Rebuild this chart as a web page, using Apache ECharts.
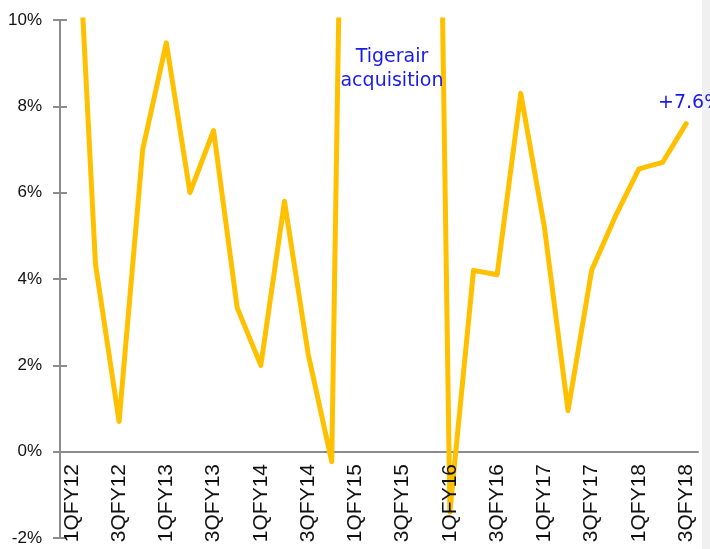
<!DOCTYPE html>
<html>
<head>
<meta charset="utf-8">
<script src="https://cdn.jsdelivr.net/npm/echarts@6/dist/echarts.min.js"></script>
<style>
html,body{margin:0;padding:0;background:#fff;}
#c{width:710px;height:549px;}
</style>
</head>
<body>
<div id="c"></div>
<script>
var categories = ['1QFY12','2QFY12','3QFY12','4QFY12','1QFY13','2QFY13','3QFY13','4QFY13',
  '1QFY14','2QFY14','3QFY14','4QFY14','1QFY15','2QFY15','3QFY15','4QFY15',
  '1QFY16','2QFY16','3QFY16','4QFY16','1QFY17','2QFY17','3QFY17','4QFY17',
  '1QFY18','2QFY18','3QFY18'];
var growth = [15.1, 4.35, 0.7, 7.0, 9.47, 6.0, 7.44, 3.33,
  2.0, 5.8, 2.27, -0.23, 34.8, 38, 40, 35.7,
  -1.4, 4.2, 4.1, 8.3, 5.2, 0.95, 4.2, 5.45,
  6.55, 6.7, 7.6];
var yTicks = [-2, 0, 2, 4, 6, 8, 10];
var annotationText = 'Tigerair\nacquisition';
var endLabel = '+7.6%';

var chart = echarts.init(document.getElementById('c'), null, {renderer:'canvas'});
var option = {
  animation: false,
  backgroundColor: '#ffffff',
  grid: {left: 60, right: 12, top: 20, bottom: 11, containLabel: false, outerBoundsMode: 'none'},
  xAxis: [{
    type: 'category',
    data: categories,
    boundaryGap: true,
    axisLine: {onZero: true, lineStyle: {color: '#8c8c8c', width: 2}},
    axisTick: {show: false},
    axisLabel: {show: false},
    splitLine: {show: false},
    z: 0
  }, {
    type: 'category',
    data: categories,
    position: 'bottom',
    boundaryGap: true,
    axisLine: {show: false, onZero: false},
    axisTick: {show: false},
    axisLabel: {
      interval: 1,
      rotate: 90,
      margin: -74,
      color: '#111',
      fontFamily: 'Liberation Sans, sans-serif',
      fontSize: 21
    },
    splitLine: {show: false},
    z: 10
  }],
  yAxis: [{
    type: 'value',
    min: yTicks[0],
    max: yTicks[yTicks.length - 1],
    interval: 2,
    axisLine: {show: true, lineStyle: {color: '#8c8c8c', width: 2}},
    axisTick: {show: true, length: 7, lineStyle: {color: '#8c8c8c', width: 2}},
    axisLabel: {
      margin: 18,
      color: '#111',
      fontFamily: 'Liberation Sans, sans-serif',
      fontSize: 17,
      formatter: function(v){ return v + '%'; }
    },
    splitLine: {show: false}
  }, {
    type: 'value',
    position: 'left',
    min: yTicks[0],
    max: yTicks[yTicks.length - 1],
    interval: 2,
    axisLine: {show: false},
    axisTick: {show: true, inside: true, length: 7, lineStyle: {color: '#8c8c8c', width: 2}},
    axisLabel: {show: false},
    splitLine: {show: false}
  }],
  series: [{
    type: 'line',
    data: growth,
    xAxisIndex: 0,
    yAxisIndex: 0,
    showSymbol: false,
    symbol: 'none',
    clip: true,
    lineStyle: {color: '#FFC000', width: 5, join: 'round', cap: 'round'},
    z: 3
  }],
  graphic: [
    {type: 'rect', shape: {x: 702, y: 0, width: 8, height: 549}, style: {fill: '#f0f0f0'}, z: 0},
    {type: 'text', x: 392, y: 45, style: {
      text: annotationText, fill: '#1a1aee', font: '19px "DejaVu Sans", sans-serif',
      align: 'center', verticalAlign: 'top', lineHeight: 24
    }, z: 10},
    {type: 'text', x: 658, y: 94, style: {
      text: endLabel, fill: '#1a1aee', font: '19px "DejaVu Sans", sans-serif',
      verticalAlign: 'top'
    }, z: 10}
  ]
};
chart.setOption(option);
</script>
</body>
</html>
